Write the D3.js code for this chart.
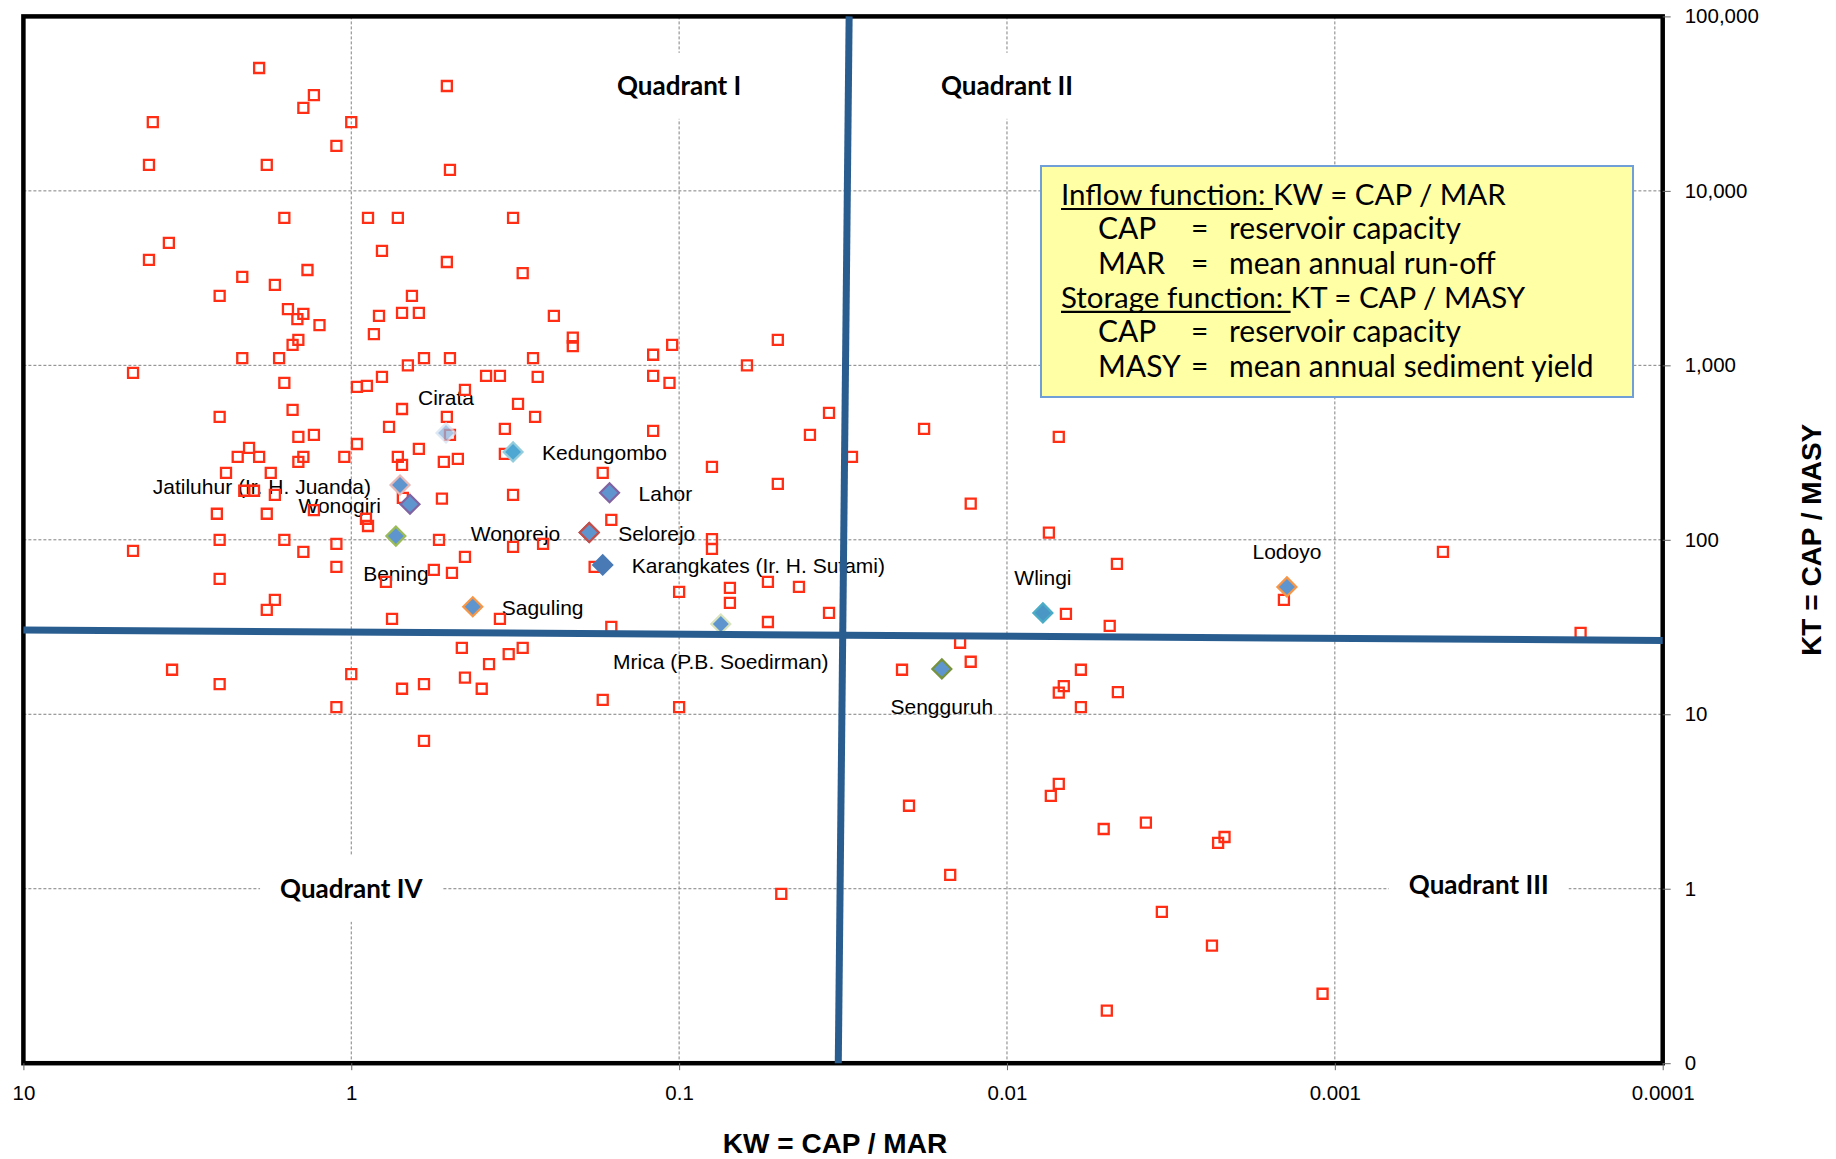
<!DOCTYPE html>
<html>
<head>
<meta charset="utf-8">
<script src="https://cdn.jsdelivr.net/npm/d3@7"></script>
<style>
  html, body { margin: 0; padding: 0; background: #fff; }
  svg { display: block; }
</style>
</head>
<body>
<div id="chart"></div>
<script>
// Axis ticks: KW = CAP / MAR runs from 10 down to 0.0001, KT = CAP / MASY from 0.1 up to 100,000
const xTickValues = [10, 1, 0.1, 0.01, 0.001, 0.0001];
const xTickLabels = ['10', '1', '0.1', '0.01', '0.001', '0.0001'];
const yTickValues = [0.1, 1, 10, 100, 1000, 10000, 100000];
const yTickLabels = ['0', '1', '10', '100', '1,000', '10,000', '100,000'];

// world reservoirs (red open squares)
const surveyKW = [
  1.91, 1.30, 1.40, 4.03, 1.00, 1.11, 4.14, 1.81, 0.511, 0.500,
  1.60, 0.889, 0.721, 0.321, 3.60, 4.14, 0.806, 0.511, 0.300, 1.36,
  2.15, 1.71, 2.52, 0.653, 1.56, 1.40, 1.46, 1.25, 0.823, 0.700,
  0.622, 0.241, 0.853, 1.45, 1.51, 0.211, 0.211, 2.15, 1.66, 0.600,
  0.500, 0.279, 0.672, 4.63, 0.388, 0.352, 0.270, 0.806, 0.120, 0.105,
  0.120, 0.107, 0.0621, 0.0500, 1.60, 0.961, 0.896, 0.450, 1.51, 2.52,
  0.700, 0.511, 0.310, 0.275, 1.45, 1.30, 0.767, 0.500, 0.340, 0.961,
  2.05, 2.22, 1.91, 1.40, 1.45, 1.05, 0.721, 0.700, 0.622, 0.522,
  0.473, 0.340, 2.41, 1.76, 0.171, 2.12, 1.98, 1.71, 0.696, 0.529,
  0.321, 2.57, 1.81, 1.30, 0.902, 0.889, 0.161, 2.52, 1.60, 1.11,
  0.540, 4.63, 1.40, 0.321, 0.260, 0.450, 1.11, 0.181, 2.52, 0.560,
  0.493, 0.784, 1.71, 1.81, 0.751, 0.352, 0.161, 0.460, 0.300, 0.331,
  0.380, 3.52, 1.00, 2.52, 0.600, 0.450, 0.700, 0.400, 1.11, 0.171,
  0.600, 0.0349, 0.120, 0.0399, 0.0794, 0.0500, 0.0297, 0.0179, 0.0129, 0.00695,
  0.00745, 0.0794, 0.0794, 0.00462, 0.100, 0.0700, 0.0700, 0.0536, 0.0431, 0.0349,
  0.0536, 0.00661, 0.00486, 0.0139, 0.0129, 0.0209, 0.00595, 0.00671, 0.00695, 0.00459,
  0.00595, 0.100, 0.000468, 0.00143, 0.000178, 0.0199, 0.0149, 0.0488, 0.00695, 0.00735,
  0.00507, 0.00377, 0.00337, 0.00237, 0.00496, 0.00227, 0.00217, 0.00109
];
const surveyKT = [
  50600, 35400, 29900, 24800, 24800, 18100, 14100, 14100, 39900, 13200,
  7000, 7000, 7000, 7000, 5030, 4020, 4530, 3910, 3380, 3520,
  3210, 2890, 2500, 2500, 2100, 1970, 1840, 1700, 1920, 2000,
  2000, 1920, 1510, 1400, 1310, 1440, 1290, 1100, 1100, 1100,
  1100, 1100, 1000, 905, 870, 870, 858, 858, 1150, 1310,
  870, 793, 1000, 1400, 793, 752, 762, 723, 555, 506,
  562, 506, 601, 506, 389, 399, 444, 399, 432, 354,
  336, 299, 299, 299, 280, 299, 299, 269, 332, 280,
  291, 311, 242, 242, 242, 191, 191, 181, 174, 172,
  181, 141, 141, 148, 132, 120, 130, 100, 100, 94.7,
  100, 86.4, 85.2, 91.0, 94.7, 79.8, 69.9, 69.9, 59.7, 67.2,
  64.6, 57.4, 45.3, 39.7, 35.2, 35.2, 31.7, 24.0, 24.0, 22.1,
  19.4, 18.0, 17.0, 14.9, 14.9, 16.2, 14.0, 14.0, 11.0, 12.1,
  7.04, 534, 421, 399, 262, 209, 299, 432, 161, 389,
  110, 101, 88.7, 72.8, 50.3, 53.0, 43.5, 57.4, 53.7, 38.1,
  33.8, 37.6, 32.1, 25.7, 20.0, 18.0, 18.0, 14.5, 13.3, 13.4,
  11.0, 11.0, 85.2, 45.3, 29.3, 2.99, 1.20, 0.935, 3.99, 3.41,
  2.20, 2.39, 0.737, 0.472, 0.200, 1.83, 1.98, 0.250
];

// Indonesian reservoirs (blue diamonds)
const reservoirNames = [
  'Cirata', 'Kedungombo', 'Jatiluhur (Ir. H. Juanda)', 'Wonogiri', 'Bening',
  'Wonorejo', 'Selorejo', 'Lahor', 'Karangkates (Ir. H. Sutami)', 'Saguling',
  'Mrica (P.B. Soedirman)', 'Sengguruh', 'Wlingi', 'Lodoyo'
];
const reservoirKW = [0.514, 0.321, 0.710, 0.662, 0.731, 0.188, 0.188, 0.163, 0.171, 0.426, 0.0746, 0.0158, 0.00777, 0.00140];
const reservoirKT = [410, 319, 206, 160, 105, 110, 110, 186, 71.8, 41.3, 32.9, 18.2, 38.1, 53.7];

// quadrant dividers (start and end of each line)
const dividerVKW = [0.0303, 0.0327];
const dividerVKT = [100000, 0.1];
const dividerHKW = [10, 0.0001];
const dividerHKT = [30.4, 26.5];

const quadrantNames = ['Quadrant I', 'Quadrant II', 'Quadrant III', 'Quadrant IV'];
const quadrantKW = [0.1, 0.01, 0.000364, 1];
const quadrantKT = [40000, 40000, 1.06, 1];

const infoLines = [
  { heading: 'Inflow function:', rest: ' KW = CAP / MAR' },
  { term: 'CAP', desc: 'reservoir capacity' },
  { term: 'MAR', desc: 'mean annual run-off' },
  { heading: 'Storage function:', rest: ' KT = CAP / MASY' },
  { term: 'CAP', desc: 'reservoir capacity' },
  { term: 'MASY', desc: 'mean annual sediment yield' },
];

// ---- styles ----
const labelSide = {
  'Cirata': 'above', 'Kedungombo': 'right', 'Jatiluhur (Ir. H. Juanda)': 'left',
  'Wonogiri': 'left', 'Bening': 'below', 'Wonorejo': 'left', 'Selorejo': 'right',
  'Lahor': 'right', 'Karangkates (Ir. H. Sutami)': 'right', 'Saguling': 'right',
  'Mrica (P.B. Soedirman)': 'below', 'Sengguruh': 'below', 'Wlingi': 'above', 'Lodoyo': 'above',
};
const sideOffset = {
  above: { dx: 0, dy: -28, anchor: 'middle' },
  below: { dx: 0, dy: 45, anchor: 'middle' },
  right: { dx: 29, dy: 8.5, anchor: 'start' },
  left: { dx: -29, dy: 8.5, anchor: 'end' },
};
const diamondStroke = {
  'Cirata': '#d5e2f2', 'Kedungombo': '#93cddd', 'Jatiluhur (Ir. H. Juanda)': '#e6b9b8',
  'Wonogiri': '#8064a2', 'Bening': '#9bbb59', 'Wonorejo': '#c0504d', 'Selorejo': '#c0504d',
  'Lahor': '#8064a2', 'Karangkates (Ir. H. Sutami)': '#4a7ab5', 'Saguling': '#f79646',
  'Mrica (P.B. Soedirman)': '#d7e4bd', 'Sengguruh': '#77933c', 'Wlingi': '#4bacc6', 'Lodoyo': '#f79646',
};
const diamondFill = {
  'Cirata': '#8fb3dd', 'Kedungombo': '#4ea6d2', 'Karangkates (Ir. H. Sutami)': '#4a7ab5', 'Wlingi': '#4a97c6',
};

const width = 1836;
const height = 1159;
const margin = { left: 23.4, right: 173.3, top: 16.4, bottom: 95.8 };
const arial = 'Liberation Sans, Arial, Helvetica, sans-serif';
const calibri = 'Lato, Carlito, Calibri, sans-serif';
const blue = '#295d90';

const x = d3.scaleLog().domain([10, 0.0001]).range([margin.left, width - margin.right]);
const y = d3.scaleLog().domain([0.1, 100000]).range([height - margin.bottom, margin.top]);

const svg = d3.select('#chart')
  .append('svg')
  .attr('width', width)
  .attr('height', height)
  .style('background', '#fff');

// gridlines
const grid = svg.append('g').attr('class', 'grid')
  .attr('stroke', '#808080')
  .attr('stroke-width', 1)
  .attr('stroke-dasharray', '3,2');
grid.selectAll('line.gx')
  .data(xTickValues.slice(1, -1))
  .enter()
  .append('line')
  .attr('x1', (d) => x(d)).attr('x2', (d) => x(d))
  .attr('y1', y(100000)).attr('y2', y(0.1));
grid.selectAll('line.gy')
  .data(yTickValues.slice(1, -1))
  .enter()
  .append('line')
  .attr('x1', x(10)).attr('x2', x(0.0001))
  .attr('y1', (d) => y(d)).attr('y2', (d) => y(d));

// quadrant labels, with white boxes that break the gridlines
const quadrants = quadrantNames.map((name, i) => ({ name, kw: quadrantKW[i], kt: quadrantKT[i] }));
const qg = svg.selectAll('g.quadrant')
  .data(quadrants)
  .enter()
  .append('g')
  .attr('class', 'quadrant')
  .attr('transform', (d) => `translate(${x(d.kw)},${y(d.kt)})`);
qg.append('rect').attr('fill', '#fff');
qg.append('text')
  .attr('text-anchor', 'middle')
  .attr('dy', '0.36em')
  .style('font-family', calibri)
  .style('font-weight', 700)
  .style('font-size', '26px')
  .text((d) => d.name);
qg.each(function () {
  const g = d3.select(this);
  const w = g.select('text').node().getComputedTextLength();
  g.select('rect').attr('x', -w / 2 - 20).attr('y', -33).attr('width', w + 40).attr('height', 66);
});

// info box
const box = { x: 1041, y: 166, w: 592, h: 231 };
const info = svg.append('g').attr('class', 'info');
info.append('rect')
  .attr('x', box.x).attr('y', box.y)
  .attr('width', box.w).attr('height', box.h)
  .attr('fill', '#ffffa6')
  .attr('stroke', '#6f9fd6')
  .attr('stroke-width', 2);
const lineGap = 34.3;
infoLines.forEach((ln, i) => {
  const by = box.y + 39 + i * lineGap;
  if (ln.heading) {
    const t = info.append('text')
      .attr('x', box.x + 20).attr('y', by)
      .style('font-family', calibri).style('font-size', '29.5px')
      .style('white-space', 'pre');
    t.append('tspan').text(ln.heading);
    t.append('tspan').text(ln.rest);
    const uw = t.node().getSubStringLength(0, ln.heading.length + 1);
    info.append('line')
      .attr('x1', box.x + 20).attr('x2', box.x + 20 + uw)
      .attr('y1', by + 4).attr('y2', by + 4)
      .attr('stroke', '#000').attr('stroke-width', 2.2);
  } else {
    const cols = [[ln.term, 57], ['=', 150], [ln.desc, 188]];
    cols.forEach(([s, dx]) => {
      info.append('text')
        .attr('x', box.x + dx).attr('y', by)
        .style('font-family', calibri).style('font-size', '30px')
        .text(s);
    });
  }
});

// reservoir labels
const reservoirs = reservoirNames.map((name, i) => ({ name, kw: reservoirKW[i], kt: reservoirKT[i] }));
svg.append('g').selectAll('text')
  .data(reservoirs)
  .enter()
  .append('text')
  .attr('x', (d) => x(d.kw) + sideOffset[labelSide[d.name]].dx)
  .attr('y', (d) => y(d.kt) + sideOffset[labelSide[d.name]].dy)
  .attr('text-anchor', (d) => sideOffset[labelSide[d.name]].anchor)
  .style('font-family', arial)
  .style('font-size', '21px')
  .attr('fill', '#000')
  .text((d) => d.name);

// survey squares
const square = d3.symbol().type(d3.symbolSquare).size(100);
svg.append('g').selectAll('path')
  .data(surveyKW.map((kw, i) => ({ kw, kt: surveyKT[i] })))
  .enter()
  .append('path')
  .attr('d', square)
  .attr('transform', (d) => `translate(${x(d.kw)},${y(d.kt)})`)
  .attr('fill', 'none')
  .attr('stroke', '#ff2e14')
  .attr('stroke-width', 2.3);

// reservoir diamonds
const diamond = d3.symbol().type(d3.symbolSquare).size(180);
svg.append('g').selectAll('path')
  .data(reservoirs)
  .enter()
  .append('path')
  .attr('d', diamond)
  .attr('transform', (d) => `translate(${x(d.kw)},${y(d.kt)}) rotate(45)`)
  .attr('fill', (d) => diamondFill[d.name] || '#5f95cf')
  .attr('stroke', (d) => diamondStroke[d.name])
  .attr('stroke-width', 2.2)
  .attr('opacity', (d) => (d.name === 'Cirata' ? 0.75 : 1));

// plot border
svg.append('rect')
  .attr('x', x(10)).attr('y', y(100000))
  .attr('width', x(0.0001) - x(10)).attr('height', y(0.1) - y(100000))
  .attr('fill', 'none')
  .attr('stroke', '#000')
  .attr('stroke-width', 4.5);

// quadrant dividers
const divLine = d3.line().x((d) => x(d[0])).y((d) => y(d[1]));
[[dividerVKW, dividerVKT], [dividerHKW, dividerHKT]].forEach(([kw, kt]) => {
  svg.append('path')
    .attr('d', divLine(kw.map((v, i) => [v, kt[i]])))
    .attr('fill', 'none')
    .attr('stroke', blue)
    .attr('stroke-width', 7);
});

// axes
const xAxis = svg.append('g')
  .attr('transform', `translate(0,${y(0.1)})`)
  .call(d3.axisBottom(x).tickValues(xTickValues).tickFormat((d, i) => xTickLabels[i]).tickSize(7).tickPadding(15));
const yAxis = svg.append('g')
  .attr('transform', `translate(${x(0.0001)},0)`)
  .call(d3.axisRight(y).tickValues(yTickValues).tickFormat((d, i) => yTickLabels[i]).tickSize(8).tickPadding(14));
[xAxis, yAxis].forEach((a) => {
  a.select('.domain').remove();
  a.selectAll('.tick line').attr('stroke', '#666').attr('stroke-width', 1);
  a.selectAll('.tick text')
    .attr('fill', '#000')
    .style('font-family', arial)
    .style('font-size', '20.5px');
});

// axis titles
svg.append('text')
  .attr('x', 835).attr('y', 1153)
  .attr('text-anchor', 'middle')
  .style('font-family', arial).style('font-weight', 700).style('font-size', '28px')
  .text('KW = CAP / MAR');
svg.append('text')
  .attr('transform', `translate(1821,${(y(0.1) + y(100000)) / 2}) rotate(-90)`)
  .attr('text-anchor', 'middle')
  .style('font-family', arial).style('font-weight', 700).style('font-size', '28px')
  .text('KT = CAP / MASY');
</script>
</body>
</html>
